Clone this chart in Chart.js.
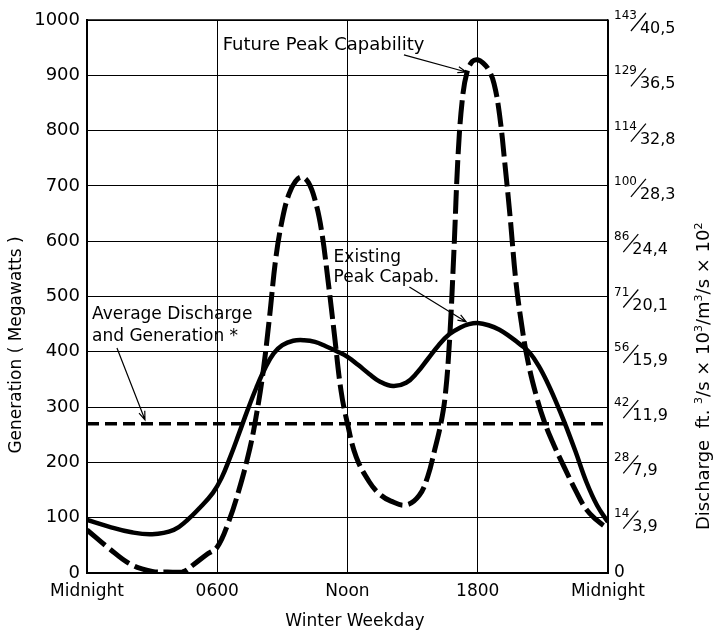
<!DOCTYPE html>
<html>
<head>
<meta charset="utf-8">
<script src="https://cdn.jsdelivr.net/npm/chart.js@4.4.1/dist/chart.umd.min.js"></script>
<style>
body { margin: 0; background: #fff; }
</style>
</head>
<body>
<canvas id="dischargeChart" width="716" height="635"></canvas>
<script>
// Hours of the day (0 = midnight) and megawatts
const existingHours = [0, 1, 2, 3, 4, 4.6, 5.2, 5.8, 6.2, 6.6, 7, 7.4, 7.8, 8.2, 8.6, 9, 9.5, 10, 10.5,
    11, 11.5, 12, 12.5, 13, 13.5, 14.1, 14.7, 15.2, 15.7, 16.2, 16.7, 17.2, 17.6, 18, 18.5, 19, 19.5,
    20, 20.4, 20.8, 21.2, 21.6, 22, 22.5, 23, 23.5, 24];
const existingMW = [96, 84, 74, 70, 78, 95, 118, 145, 172, 210, 252, 295, 335, 370, 397, 412, 420, 421, 418,
    410, 401, 391, 376, 360, 346, 338, 344, 362, 387, 412, 432, 444, 450, 452, 448, 440, 427,
    412, 398, 375, 345, 310, 272, 220, 165, 122, 92];

const futureHours = [0, 1, 2, 3, 3.7, 4.4, 4.9, 5.5, 6, 6.5, 7, 7.5, 7.8, 8.1, 8.4, 8.7, 9, 9.3, 9.6, 9.9,
    10.2, 10.5, 10.8, 11.1, 11.4, 11.7, 12, 12.4, 13, 13.5, 14, 14.7, 15.3, 15.7, 16, 16.3, 16.5, 16.7,
    16.9, 17.1, 17.3, 17.5, 17.75, 18, 18.25, 18.5, 18.75, 19, 19.25, 19.5, 19.75, 20, 20.3, 20.7,
    21.1, 21.5, 22, 22.5, 23, 23.5, 24];
const futureMW = [78, 45, 16, 3, 2, 2, 15, 33, 47, 90, 150, 225, 285, 360, 460, 570, 640, 685, 708, 716,
    706, 675, 620, 530, 430, 330, 270, 210, 165, 142, 130, 123, 140, 175, 220, 270, 320, 420,
    580, 760, 860, 905, 925, 928, 922, 910, 885, 830, 740, 640, 530, 455, 385, 320,
    270, 232, 190, 150, 115, 95, 80];

const averageHours = [0, 24];
const averageMW = [270, 270];

const xTickLabels = ['Midnight', '0600', 'Noon', '1800', 'Midnight'];
// right axis: ft3/s x 10^3 over m3/s x 10^2, one pair per 100 MW
const rightTop = ['', '14', '28', '42', '56', '71', '86', '100', '114', '129', '143'];
const rightBottom = ['0', '3,9', '7,9', '11,9', '15,9', '20,1', '24,4', '28,3', '32,8', '36,5', '40,5'];

const FONT = "'DejaVu Sans', sans-serif";

function toPoints(xs, ys) {
    return xs.map((x, i) => ({ x: x, y: ys[i] }));
}

function drawArrow(ctx, x1, y1, x2, y2) {
    const a = Math.atan2(y2 - y1, x2 - x1);
    ctx.beginPath();
    ctx.moveTo(x1, y1);
    ctx.lineTo(x2, y2);
    ctx.moveTo(x2 - 9 * Math.cos(a - 0.35), y2 - 9 * Math.sin(a - 0.35));
    ctx.lineTo(x2, y2);
    ctx.lineTo(x2 - 9 * Math.cos(a + 0.35), y2 - 9 * Math.sin(a + 0.35));
    ctx.stroke();
}

const extrasPlugin = {
    id: 'extras',
    afterDraw(chart) {
        const ctx = chart.ctx;
        const area = chart.chartArea;
        const xs = chart.scales.x;
        const ys = chart.scales.y;
        const px = h => xs.getPixelForValue(h);
        const py = v => ys.getPixelForValue(v);

        ctx.save();
        ctx.strokeStyle = '#000';
        ctx.fillStyle = '#000';

        // top edge of the frame
        ctx.lineWidth = 1.5;
        ctx.beginPath();
        ctx.moveTo(area.left, area.top);
        ctx.lineTo(area.right, area.top);
        ctx.stroke();

        // right axis fraction labels
        rightBottom.forEach((den, i) => {
            const t = py(i * 100);
            const x0 = area.right + 6;
            if (!rightTop[i]) {
                ctx.font = '17px ' + FONT;
                ctx.textBaseline = 'middle';
                ctx.fillText(den, x0, t);
                return;
            }
            ctx.textBaseline = 'alphabetic';
            ctx.font = '12px ' + FONT;
            ctx.fillText(rightTop[i], x0, t - 1);
            const numEnd = x0 + ctx.measureText(rightTop[i]).width;
            ctx.lineWidth = 1.2;
            ctx.beginPath();
            ctx.moveTo(numEnd - 6, t + 11);
            ctx.lineTo(numEnd + 9, t - 7);
            ctx.stroke();
            ctx.font = '16px ' + FONT;
            ctx.fillText(den, numEnd + 3, t + 13);
        });

        // left axis title
        ctx.save();
        ctx.translate(17, 345);
        ctx.rotate(-Math.PI / 2);
        ctx.font = '17px ' + FONT;
        ctx.textAlign = 'center';
        ctx.textBaseline = 'middle';
        ctx.fillText('Generation ( Megawatts )', 0, 0);
        ctx.restore();

        // right axis title with superscripts
        ctx.save();
        ctx.translate(701, 530);
        ctx.rotate(-Math.PI / 2);
        ctx.textBaseline = 'alphabetic';
        const parts = [['Discharge  ft. ', 0], ['3', 1], ['/s \u00d7 10', 0], ['3', 1], ['/m', 0], ['3', 1], ['/s \u00d7 10', 0], ['2', 1]];
        let cx = 0;
        parts.forEach(p => {
            ctx.font = (p[1] ? '11px ' : '18px ') + FONT;
            ctx.fillText(p[0], cx, p[1] ? 1 : 8);
            cx += ctx.measureText(p[0]).width;
        });
        ctx.restore();

        // x axis title
        ctx.font = '17px ' + FONT;
        ctx.textAlign = 'center';
        ctx.textBaseline = 'middle';
        ctx.fillText('Winter Weekday', 355, 622);

        // annotations
        ctx.textAlign = 'left';
        ctx.font = '18px ' + FONT;
        ctx.fillText('Future Peak Capability', px(6.25), py(955));
        ctx.font = '17px ' + FONT;
        ctx.fillText('Existing', px(11.36), py(571));
        ctx.fillText('Peak Capab.', px(11.36), py(535));
        ctx.fillText('Average Discharge', px(0.23), py(468));
        ctx.fillText('and Generation *', px(0.23), py(427));

        ctx.lineWidth = 1.2;
        drawArrow(ctx, px(14.6), py(937), px(17.47), py(906));
        drawArrow(ctx, px(14.85), py(517), px(17.47), py(454));
        drawArrow(ctx, px(1.38), py(407), px(2.67), py(277));

        ctx.restore();
    }
};

const ctx = document.getElementById('dischargeChart').getContext('2d');
const dischargeChart = new Chart(ctx, {
    type: 'line',
    data: {
        datasets: [{
            label: 'Existing Peak Capab.',
            data: toPoints(existingHours, existingMW),
            borderColor: '#000',
            borderWidth: 4.5,
            pointRadius: 0,
            tension: 0.4
        }, {
            label: 'Future Peak Capability',
            data: toPoints(futureHours, futureMW),
            borderColor: '#000',
            borderWidth: 5,
            borderDash: [24, 6],
            pointRadius: 0,
            tension: 0.4
        }, {
            label: 'Average Discharge and Generation',
            data: toPoints(averageHours, averageMW),
            borderColor: '#000',
            borderWidth: 3.5,
            borderDash: [12, 6],
            pointRadius: 0
        }]
    },
    options: {
        responsive: false,
        animation: false,
        devicePixelRatio: 1,
        layout: { padding: { top: 20, left: 0, right: 0, bottom: 0 } },
        plugins: {
            legend: { display: false },
            tooltip: { enabled: false }
        },
        scales: {
            x: {
                type: 'linear',
                min: 0,
                max: 24,
                afterFit: s => { s.height = 62; },
                ticks: {
                    stepSize: 6,
                    autoSkip: false,
                    maxRotation: 0,
                    padding: 8,
                    color: '#000',
                    font: { family: FONT, size: 17 },
                    callback: v => xTickLabels[v / 6]
                },
                grid: { color: '#000', lineWidth: 1, drawTicks: false },
                border: { color: '#000', width: 2 }
            },
            y: {
                position: 'left',
                min: 0,
                max: 1000,
                afterFit: s => { s.width = 87; },
                ticks: {
                    stepSize: 100,
                    padding: 7,
                    color: '#000',
                    font: { family: FONT, size: 18 },
                    callback: v => String(v)
                },
                grid: { color: '#000', lineWidth: 1, drawTicks: false },
                border: { color: '#000', width: 2 }
            },
            y2: {
                position: 'right',
                min: 0,
                max: 1000,
                afterFit: s => { s.width = 108; },
                ticks: { display: false },
                grid: { drawOnChartArea: false, drawTicks: false },
                border: { color: '#000', width: 1.5 }
            }
        }
    },
    plugins: [extrasPlugin]
});
</script>
</body>
</html>
